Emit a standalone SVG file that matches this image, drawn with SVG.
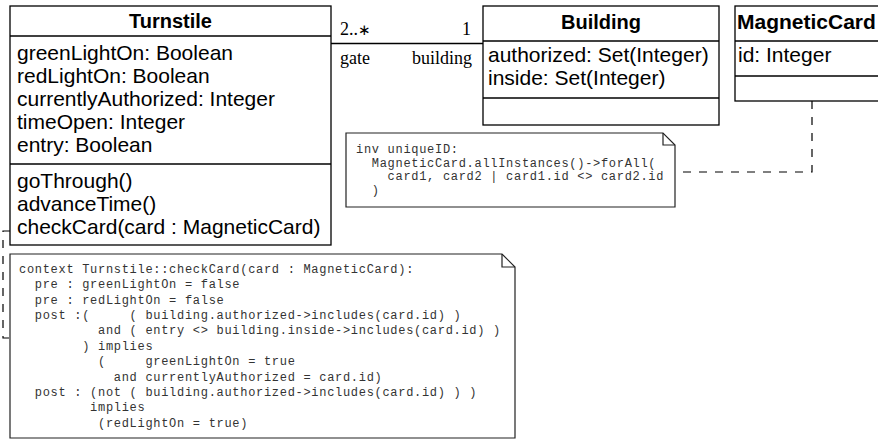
<svg xmlns="http://www.w3.org/2000/svg" width="878" height="439" viewBox="0 0 878 439">
<style>
.box{fill:#fff;stroke:#000;stroke-width:1.3}
.sep{stroke:#000;stroke-width:1.3}
.sans{font-family:"Liberation Sans",Arial,sans-serif;font-size:21px;fill:#000}
.title{font-family:"Liberation Sans",Arial,sans-serif;font-weight:bold;font-size:20px;fill:#000;text-anchor:middle}
.mono{font-family:"Liberation Mono","Courier New",monospace;font-size:12px;letter-spacing:0.7px;fill:#333;white-space:pre}
.serif{font-family:"Liberation Serif","Times New Roman",serif;font-size:18px;fill:#000}
.dash{fill:none;stroke:#000;stroke-width:1.2;stroke-dasharray:8 8}
.note{fill:#fff;stroke:#222;stroke-width:1.2}
.fold{fill:none;stroke:#222;stroke-width:1.2}
.line{fill:none;stroke:#000;stroke-width:1.3}
</style>
<rect width="878" height="439" fill="#fff"/>

<g id="connectors">
  <line class="line" x1="331" y1="43.5" x2="483" y2="43.5"/>
  <text class="serif" x="340" y="35">2..<tspan font-size="15" font-weight="normal">∗</tspan></text>
  <text class="serif" x="471" y="35" text-anchor="end">1</text>
  <text class="serif" x="340" y="64">gate</text>
  <text class="serif" x="472" y="64" text-anchor="end">building</text>
  <path class="dash" d="M812,101 V172 H676"/>
  <path class="dash" d="M10,231 H3 V338 H10"/>
</g>

<g id="Turnstile">
  <rect class="box" x="10" y="6" width="321" height="239"/>
  <line class="sep" x1="10" y1="36" x2="331" y2="36"/>
  <line class="sep" x1="10" y1="164" x2="331" y2="164"/>
  <text class="title" x="170.5" y="28">Turnstile</text>
  <text class="sans" x="17" y="60">greenLightOn: Boolean</text>
  <text class="sans" x="17" y="83">redLightOn: Boolean</text>
  <text class="sans" x="17" y="106">currentlyAuthorized: Integer</text>
  <text class="sans" x="17" y="129">timeOpen: Integer</text>
  <text class="sans" x="17" y="152">entry: Boolean</text>
  <text class="sans" x="17" y="188">goThrough()</text>
  <text class="sans" x="17" y="211">advanceTime()</text>
  <text class="sans" x="17" y="234">checkCard(card : MagneticCard)</text>
</g>

<g id="Building">
  <rect class="box" x="483" y="6" width="236" height="119"/>
  <line class="sep" x1="483" y1="41" x2="719" y2="41"/>
  <line class="sep" x1="483" y1="98" x2="719" y2="98"/>
  <text class="title" x="601" y="29">Building</text>
  <text class="sans" x="488" y="62">authorized: Set(Integer)</text>
  <text class="sans" x="488" y="85">inside: Set(Integer)</text>
</g>

<g id="MagneticCard">
  <rect class="box" x="735" y="6" width="146" height="95"/>
  <line class="sep" x1="735" y1="41" x2="881" y2="41"/>
  <line class="sep" x1="735" y1="76" x2="881" y2="76"/>
  <text class="title" x="737" y="29" style="text-anchor:start;font-size:21px">MagneticCard</text>
  <text class="sans" x="738" y="62">id: Integer</text>
</g>

<g id="noteUniqueID">
  <path class="note" d="M346,133 H663 L675,145 V207 H346 Z"/>
  <path class="fold" d="M663,133 V145 H675"/>
  <text class="mono" xml:space="preserve" x="356" y="152.5">inv uniqueID:</text>
  <text class="mono" xml:space="preserve" x="356" y="166.5">  MagneticCard.allInstances()-&gt;forAll(</text>
  <text class="mono" xml:space="preserve" x="356" y="180">    card1, card2 | card1.id &lt;&gt; card2.id</text>
  <text class="mono" xml:space="preserve" x="356" y="193.5">  )</text>
</g>

<g id="noteCheckCard">
  <path class="note" d="M10,254 H502 L515,267 V438 H10 Z"/>
  <path class="fold" d="M502,254 V267 H515"/>
  <text class="mono" xml:space="preserve" x="19" y="273">context Turnstile::checkCard(card : MagneticCard):</text>
  <text class="mono" xml:space="preserve" x="19" y="288.4">  pre : greenLightOn = false</text>
  <text class="mono" xml:space="preserve" x="19" y="303.7">  pre : redLightOn = false</text>
  <text class="mono" xml:space="preserve" x="19" y="319">  post :(     ( building.authorized-&gt;includes(card.id) )</text>
  <text class="mono" xml:space="preserve" x="19" y="334.4">          and ( entry &lt;&gt; building.inside-&gt;includes(card.id) )</text>
  <text class="mono" xml:space="preserve" x="19" y="349.8">        ) implies</text>
  <text class="mono" xml:space="preserve" x="19" y="365.1">          (     greenLightOn = true</text>
  <text class="mono" xml:space="preserve" x="19" y="380.5">            and currentlyAuthorized = card.id)</text>
  <text class="mono" xml:space="preserve" x="19" y="395.8">  post : (not ( building.authorized-&gt;includes(card.id) ) )</text>
  <text class="mono" xml:space="preserve" x="19" y="411.2">         implies</text>
  <text class="mono" xml:space="preserve" x="19" y="426.5">          (redLightOn = true)</text>
</g>
</svg>
